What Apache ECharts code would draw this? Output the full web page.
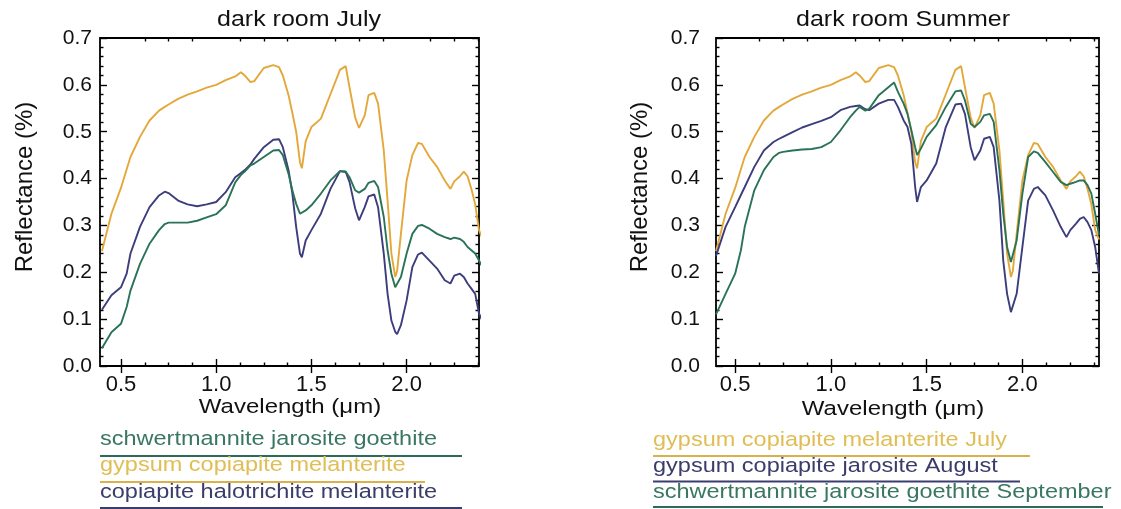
<!DOCTYPE html>
<html>
<head>
<meta charset="utf-8">
<script src="https://cdn.jsdelivr.net/npm/echarts@6/dist/echarts.min.js"></script>
<style>
html,body{margin:0;padding:0;background:#fff;}
#c{width:1121px;height:509px;}
</style>
</head>
<body>
<div id="c"></div>
<script>
// ---- data ----
const wavelengths = [0.40,0.45,0.50,0.53,0.55,0.60,0.65,0.70,0.73,0.75,0.80,0.85,0.90,0.95,1.00,1.05,1.10,1.13,1.15,1.18,1.20,1.25,1.30,1.33,1.35,1.38,1.40,1.42,1.44,1.45,1.47,1.50,1.55,1.60,1.65,1.68,1.70,1.73,1.75,1.78,1.80,1.83,1.85,1.88,1.90,1.92,1.94,1.95,1.97,2.00,2.03,2.06,2.08,2.12,2.16,2.20,2.23,2.25,2.28,2.30,2.32,2.34,2.36,2.38,2.40];

// gypsum copiapite melanterite (July) - gold
const gypsumCopiapiteMelanteriteJuly = [0.245,0.325,0.38,0.42,0.446,0.489,0.524,0.545,0.553,0.558,0.570,0.579,0.586,0.594,0.600,0.610,0.618,0.627,0.620,0.606,0.608,0.636,0.642,0.638,0.62,0.578,0.54,0.50,0.435,0.422,0.48,0.51,0.528,0.58,0.632,0.640,0.595,0.53,0.508,0.535,0.578,0.583,0.56,0.46,0.353,0.24,0.19,0.203,0.282,0.396,0.45,0.476,0.474,0.446,0.425,0.396,0.378,0.394,0.405,0.415,0.405,0.378,0.345,0.29,0.27];

// copiapite halotrichite melanterite - navy (left panel)
const copiapiteHalotrichiteMelanterite = [0.12,0.151,0.168,0.197,0.24,0.297,0.339,0.364,0.372,0.369,0.353,0.345,0.341,0.345,0.35,0.371,0.403,0.412,0.418,0.43,0.442,0.467,0.483,0.484,0.467,0.418,0.368,0.297,0.24,0.232,0.268,0.29,0.325,0.378,0.416,0.414,0.393,0.336,0.311,0.339,0.362,0.366,0.339,0.24,0.154,0.097,0.073,0.068,0.087,0.14,0.211,0.238,0.242,0.225,0.208,0.183,0.176,0.193,0.197,0.19,0.176,0.165,0.154,0.112,0.095];

// schwertmannite jarosite goethite - green (left panel)
const schwertmanniteJarositeGoethite = [0.038,0.072,0.09,0.126,0.161,0.218,0.261,0.29,0.303,0.306,0.306,0.306,0.31,0.317,0.324,0.343,0.392,0.408,0.415,0.428,0.432,0.446,0.46,0.461,0.45,0.41,0.375,0.346,0.325,0.321,0.332,0.343,0.368,0.396,0.416,0.415,0.403,0.375,0.37,0.378,0.391,0.395,0.382,0.318,0.247,0.197,0.168,0.167,0.19,0.24,0.282,0.299,0.301,0.293,0.282,0.275,0.271,0.274,0.271,0.265,0.254,0.247,0.24,0.225,0.21];

// gypsum copiapite jarosite August - navy (right panel)
const gypsumCopiapiteJarositeAugust = [0.235,0.297,0.339,0.365,0.382,0.425,0.46,0.478,0.485,0.489,0.499,0.509,0.516,0.523,0.531,0.546,0.553,0.555,0.556,0.548,0.546,0.56,0.568,0.568,0.553,0.524,0.51,0.474,0.382,0.35,0.382,0.396,0.432,0.51,0.558,0.56,0.538,0.467,0.439,0.46,0.485,0.489,0.467,0.353,0.225,0.154,0.115,0.118,0.154,0.254,0.353,0.378,0.382,0.364,0.332,0.297,0.275,0.29,0.304,0.314,0.318,0.307,0.29,0.254,0.197];

// schwertmannite jarosite goethite September - green (right panel)
const schwertmanniteJarositeGoethiteSeptember = [0.11,0.154,0.197,0.247,0.297,0.375,0.418,0.446,0.455,0.457,0.46,0.462,0.463,0.467,0.478,0.503,0.531,0.545,0.553,0.545,0.549,0.578,0.595,0.605,0.585,0.56,0.538,0.503,0.467,0.45,0.464,0.489,0.514,0.553,0.586,0.588,0.567,0.517,0.51,0.521,0.535,0.538,0.521,0.418,0.325,0.254,0.222,0.225,0.268,0.368,0.446,0.458,0.455,0.435,0.414,0.393,0.386,0.389,0.393,0.396,0.396,0.386,0.368,0.325,0.28];

const xMajorTicks = [0.5, 1.0, 1.5, 2.0];
const xMinorTicks = [0.625,0.75,0.875,1.125,1.25,1.375,1.625,1.75,1.875,2.125,2.25,2.375];
const panelTitles = ['dark room July', 'dark room Summer'];
const xAxisName = 'Wavelength (\u03bcm)';
const yAxisName = 'Reflectance (%)';
const legendLeft = ['schwertmannite jarosite goethite', 'gypsum copiapite melanterite', 'copiapite halotrichite melanterite'];
const legendRight = ['gypsum copiapite melanterite July', 'gypsum copiapite jarosite August', 'schwertmannite jarosite goethite September'];

// ---- styling ----
const GOLD = '#e4a83a', NAVY = '#3c3d7c', GREEN = '#2a7357';
const GOLD_T = '#e0bd55', NAVY_T = '#3a3d6a', GREEN_T = '#3a7762';
const FONT = '"Liberation Sans", Arial, sans-serif';

const panels = [
  {left: 100, top: 38, width: 379, height: 328, xmin: 0.39, xmax: 2.38, yMargin: 8},
  {left: 716, top: 38, width: 383, height: 328, xmin: 0.40, xmax: 2.40, yMargin: 16}
];

const grid = [], xAxis = [], yAxis = [];
panels.forEach((p, i) => {
  const gMain = grid.length;
  grid.push({left: p.left, top: p.top, width: p.width, height: p.height, show: true, borderColor: '#000', borderWidth: 1.8, backgroundColor: 'transparent'});
  const gMinor = grid.length;
  grid.push({left: p.left, top: p.top, width: p.width, height: p.height, show: false});
  const tickStyle = {color: '#000', width: 1.4};
  ['bottom', 'top'].forEach(pos => {
    xAxis.push({gridIndex: gMain, type: 'value', position: pos, min: p.xmin, max: p.xmax,
      axisLine: {show: false}, splitLine: {show: false},
      axisTick: {show: true, inside: true, length: 7, customValues: xMajorTicks, lineStyle: tickStyle},
      axisLabel: pos === 'bottom' ? {show: true, customValues: xMajorTicks, formatter: v => v.toFixed(1), fontSize: 22, fontFamily: FONT, color: '#111', margin: 8} : {show: false}
    });
  });
  ['bottom', 'top'].forEach(pos => {
    xAxis.push({gridIndex: gMinor, type: 'value', position: pos, min: p.xmin, max: p.xmax,
      axisLine: {show: false}, splitLine: {show: false}, axisLabel: {show: false},
      axisTick: {show: true, inside: true, length: 3.5, customValues: xMinorTicks, lineStyle: tickStyle}
    });
  });
  ['left', 'right'].forEach(pos => {
    yAxis.push({gridIndex: gMain, type: 'value', position: pos, min: 0, max: 0.7, interval: 0.1,
      axisLine: {show: false}, splitLine: {show: false}, minorSplitLine: {show: false},
      axisTick: {show: true, inside: true, length: 7, lineStyle: tickStyle},
      minorTick: {show: true, splitNumber: 5, length: 3.5, lineStyle: tickStyle},
      axisLabel: pos === 'left' ? {show: true, formatter: v => v.toFixed(1), fontSize: 21, fontFamily: FONT, color: '#111', margin: p.yMargin} : {show: false}
    });
  });
  yAxis.push({gridIndex: gMinor, type: 'value', min: 0, max: 0.7, show: false});
});

function pairs(vals) { return wavelengths.map((w, i) => [w, vals[i]]); }
function line(name, vals, color, xi, yi) {
  return {name, type: 'line', xAxisIndex: xi, yAxisIndex: yi, data: pairs(vals), showSymbol: false, symbol: 'none',
    clip: true, lineStyle: {color, width: 1.9}, itemStyle: {color}, animation: false, silent: true};
}
// main x axes are index 0 (left panel) and 4 (right panel); main y axes 0 and 3
const series = [
  line(legendLeft[1], gypsumCopiapiteMelanteriteJuly, GOLD, 0, 0),
  line(legendLeft[2], copiapiteHalotrichiteMelanterite, NAVY, 0, 0),
  line(legendLeft[0], schwertmanniteJarositeGoethite, GREEN, 0, 0),
  line(legendRight[0], gypsumCopiapiteMelanteriteJuly, GOLD, 4, 3),
  line(legendRight[1], gypsumCopiapiteJarositeAugust, NAVY, 4, 3),
  line(legendRight[2], schwertmanniteJarositeGoethiteSeptember, GREEN, 4, 3)
];

function txt(text, x, y, size, color, align, opts) {
  return Object.assign({type: 'text', x, y, scaleY: 0.88, silent: true,
    style: {text, fontSize: size, fontFamily: FONT, fill: color, textAlign: align, textVerticalAlign: 'middle'}}, opts || {});
}
function uline(x1, x2, y, color) {
  return {type: 'line', silent: true, shape: {x1, y1: y, x2, y2: y}, style: {stroke: color, lineWidth: 2}};
}

const graphic = [
  txt(panelTitles[0], 299, 20, 25, '#111', 'center'),
  txt(panelTitles[1], 903, 20, 25, '#111', 'center'),
  txt(xAxisName, 290, 407, 24, '#111', 'center'),
  txt(xAxisName, 893, 409, 24, '#111', 'center'),
  txt(yAxisName, 25, 187, 24, '#111', 'center', {rotation: Math.PI / 2, scaleY: 1}),
  txt(yAxisName, 640, 187, 24, '#111', 'center', {rotation: Math.PI / 2, scaleY: 1}),
  // left legend
  txt(legendLeft[0], 100, 439, 23.5, GREEN_T, 'left'),
  uline(100, 462, 456, '#2d6a5c'),
  txt(legendLeft[1], 100, 465.5, 23.5, GOLD_T, 'left'),
  uline(100, 425, 482, '#d8b24c'),
  txt(legendLeft[2], 100, 492, 23.5, NAVY_T, 'left'),
  uline(100, 462, 508, '#3a3d70'),
  // right legend
  txt(legendRight[0], 653, 440, 23.5, GOLD_T, 'left'),
  uline(653, 1030, 456, '#d8b24c'),
  txt(legendRight[1], 653, 466, 23.5, NAVY_T, 'left'),
  uline(653, 1020, 481.5, '#3a3d70'),
  txt(legendRight[2], 653, 492, 23.5, GREEN_T, 'left'),
  uline(653, 1103, 507, '#2d6a5c')
];

const chart = echarts.init(document.getElementById('c'), null, {renderer: 'canvas'});
chart.setOption({animation: false, backgroundColor: '#fff', grid, xAxis, yAxis, series, graphic});
</script>
</body>
</html>
